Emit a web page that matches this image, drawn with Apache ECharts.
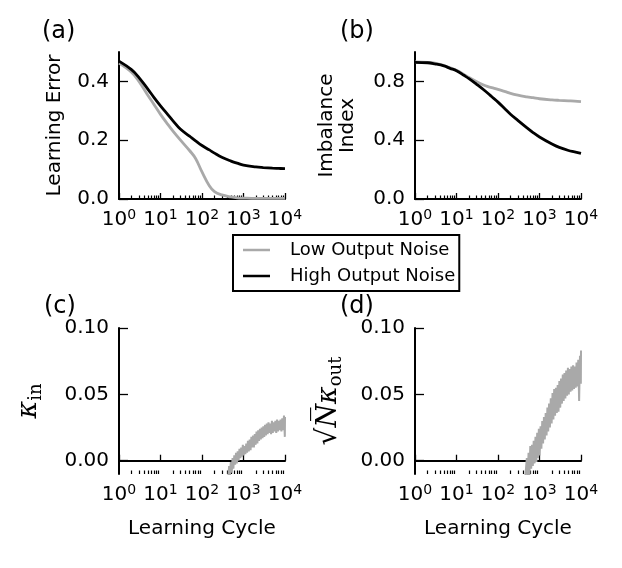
<!DOCTYPE html>
<html>
<head>
<meta charset="utf-8">
<script src="https://cdn.jsdelivr.net/npm/echarts@6/dist/echarts.min.js"></script>
<style>
  html, body { margin: 0; padding: 0; background: #fff; }
  #chart { width: 622px; height: 568px; }
</style>
</head>
<body>
<div id="chart"></div>
<script>
// learning cycles for the smooth curves (a), (b)
const cycles = [1, 2, 3, 5, 7, 10, 15, 20, 30, 50, 70, 100, 150, 200, 300, 500, 700, 1000, 2000, 3000, 5000, 7000, 10000];
// (a) learning error
const errLow  = [0.462, 0.431, 0.401, 0.352, 0.321, 0.288, 0.254, 0.231, 0.201, 0.165, 0.138, 0.092, 0.045, 0.025, 0.014, 0.007, 0.004, 0.003, 0.002, 0.002, 0.002, 0.002, 0.002];
const errHigh = [0.469, 0.440, 0.414, 0.373, 0.345, 0.317, 0.287, 0.266, 0.238, 0.214, 0.198, 0.182, 0.167, 0.156, 0.142, 0.129, 0.122, 0.115, 0.109, 0.107, 0.105, 0.104, 0.103];
// (b) imbalance index
const imbLow  = [0.932, 0.929, 0.924, 0.908, 0.893, 0.876, 0.848, 0.826, 0.799, 0.770, 0.758, 0.746, 0.730, 0.718, 0.706, 0.695, 0.689, 0.682, 0.674, 0.671, 0.668, 0.666, 0.663];
const imbHigh = [0.930, 0.927, 0.919, 0.905, 0.889, 0.873, 0.842, 0.819, 0.782, 0.733, 0.697, 0.659, 0.611, 0.577, 0.535, 0.484, 0.452, 0.422, 0.374, 0.351, 0.330, 0.321, 0.311];

// learning cycles for the noisy curves (c), (d)
const cyclesNoise = [430, 450, 470, 495, 520, 545, 570, 600, 630, 660, 690, 725, 760, 800, 840, 880, 920, 965,
  1010, 1060, 1110, 1165, 1220, 1280, 1340, 1410, 1480, 1550, 1620, 1700, 1780, 1870, 1960, 2060, 2160, 2260,
  2370, 2490, 2610, 2740, 2870, 3010, 3160, 3310, 3470, 3640, 3820, 4000, 4200, 4400, 4620, 4840, 5080, 5330,
  5590, 5860, 6150, 6450, 6770, 7100, 7450, 7810, 8190, 8590, 9010, 9450, 9910, 10000];
const kappaIn = [-0.013, -0.004, -0.011, -0.001, -0.009, 0.002, -0.006, 0.004, -0.003, 0.006, -0.002, 0.007, 0.000, 0.009, 0.002, 0.010, 0.003, 0.012,
  0.004, 0.011, 0.005, 0.013, 0.006, 0.015, 0.007, 0.016, 0.008, 0.018, 0.010, 0.019, 0.010, 0.020, 0.012, 0.022, 0.013, 0.023,
  0.015, 0.024, 0.016, 0.025, 0.017, 0.026, 0.018, 0.027, 0.019, 0.028, 0.020, 0.029, 0.021, 0.028, 0.020, 0.030, 0.021, 0.029,
  0.022, 0.030, 0.021, 0.031, 0.022, 0.030, 0.023, 0.031, 0.022, 0.032, 0.023, 0.034, 0.018, 0.033];
const kappaOut = [-0.016, -0.014, -0.015, 0.002, -0.012, 0.006, -0.011, 0.011, -0.006, 0.012, -0.004, 0.015, -0.002, 0.018, -0.001, 0.021, 0.002, 0.024,
  0.004, 0.026, 0.009, 0.030, 0.013, 0.033, 0.016, 0.036, 0.019, 0.040, 0.022, 0.043, 0.025, 0.047, 0.028, 0.051, 0.031, 0.054,
  0.034, 0.055, 0.036, 0.057, 0.037, 0.060, 0.040, 0.062, 0.043, 0.065, 0.045, 0.066, 0.047, 0.068, 0.049, 0.070, 0.050, 0.069,
  0.052, 0.071, 0.053, 0.072, 0.054, 0.071, 0.055, 0.074, 0.056, 0.076, 0.045, 0.079, 0.058, 0.083];

const xMajor = [1, 10, 100, 1000, 10000];
const yTicksA = [0, 0.2, 0.4];
const yTicksB = [0, 0.4, 0.8];
const yTicksC = [0, 0.05, 0.1];

let xMinor = [];
for (let d = 1; d < 10000; d *= 10) {
  for (let k = 2; k <= 9; k++) xMinor.push(k * d);
}

const FONT = 'DejaVu Sans';
const GRAY = '#a9a9a9';

const zip = (xs, ys) => xs.map((x, i) => [x, ys[i]]);

const grids = [
  { left: 119, top: 52, width: 166, height: 147 },
  { left: 415, top: 52, width: 166, height: 147 },
  { left: 119, top: 328, width: 166, height: 146 },
  { left: 415, top: 328, width: 166, height: 146 }
];

function majorX(i) {
  let ax = {
    type: 'log', logBase: 10, gridIndex: i, min: 1, max: 10000, position: 'bottom',
    axisLine: { show: true, lineStyle: { color: '#000', width: 2 } },
    axisTick: { show: true, inside: true, length: 6, lineStyle: { color: '#000', width: 1.3 }, customValues: xMajor },
    axisLabel: {
      customValues: xMajor, margin: 9, color: '#000',
      formatter: v => '{b|10}{s|' + Math.round(Math.log10(v)) + '}',
      rich: {
        b: { fontSize: 20, fontFamily: FONT, color: '#000', lineHeight: 23 },
        s: { fontSize: 14, fontFamily: FONT, color: '#000', lineHeight: 14, verticalAlign: 'top' }
      }
    },
    splitLine: { show: false }
  };
  if (i >= 2) {
    ax.name = 'Learning Cycle';
    ax.nameLocation = 'middle';
    ax.nameGap = 45;
    ax.nameTextStyle = { fontSize: 20, fontFamily: FONT, color: '#000' };
  }
  return ax;
}
function minorX(i) {
  return {
    type: 'log', logBase: 10, gridIndex: i, min: 1, max: 10000, position: 'bottom', offset: 0,
    axisLine: { show: false },
    axisTick: { show: true, inside: true, length: 3.5, lineStyle: { color: '#000', width: 1.2 }, customValues: xMinor },
    axisLabel: { show: false },
    splitLine: { show: false }
  };
}
function yAx(i, min, max, ticks, digits, name, gap, nameStyle) {
  return {
    type: 'value', gridIndex: i, min: min, max: max,
    axisLine: { show: true, lineStyle: { color: '#000', width: 2 } },
    axisTick: { show: true, inside: true, length: 9, lineStyle: { color: '#000', width: 1.3 }, customValues: ticks },
    axisLabel: { customValues: ticks, margin: 10, fontSize: 20, fontFamily: FONT, color: '#000', formatter: v => v.toFixed(digits) },
    splitLine: { show: false },
    name: name, nameLocation: 'middle', nameGap: gap, nameRotate: 90,
    nameTextStyle: nameStyle
  };
}

const plainName = { fontSize: 20, fontFamily: FONT, color: '#000', lineHeight: 21 };
const mathName = {
  color: '#000',
  rich: {
    r: { fontSize: 28, fontFamily: 'DejaVu Serif', color: '#000', lineHeight: 32 },
    k: { fontSize: 27, fontFamily: 'DejaVu Serif', fontStyle: 'italic', color: '#000', lineHeight: 32 },
    s: { fontSize: 18, fontFamily: 'DejaVu Serif', color: '#000', lineHeight: 22, verticalAlign: 'bottom' }
  }
};

function line(name, xi, yi, data, color, width, smooth) {
  return {
    type: 'line', name: name, xAxisIndex: xi, yAxisIndex: yi, data: data,
    showSymbol: false, symbol: 'none', smooth: smooth,
    lineStyle: { color: color, width: width }, itemStyle: { color: color },
    clip: true
  };
}

const chart = echarts.init(document.getElementById('chart'));
chart.setOption({
  animation: false,
  backgroundColor: '#fff',
  title: [
    { text: '(a)', left: 42, top: 20 },
    { text: '(b)', left: 340, top: 20 },
    { text: '(c)', left: 44, top: 295 },
    { text: '(d)', left: 340, top: 295 }
  ].map(t => Object.assign(t, { padding: 0, textStyle: { fontSize: 24, fontWeight: 'normal', fontFamily: FONT, color: '#000' } })),
  legend: {
    left: 233, top: 235, orient: 'vertical',
    padding: [4, 4, 4, 10], itemGap: 4,
    itemWidth: 27, itemHeight: 2.5, icon: 'rect',
    borderColor: '#000', borderWidth: 2,
    textStyle: { fontSize: 18, fontFamily: FONT, color: '#000', lineHeight: 22, padding: [0, 0, 0, 15] },
    data: ['Low Output Noise', 'High Output Noise']
  },
  grid: grids,
  xAxis: [majorX(0), minorX(0), majorX(1), minorX(1), majorX(2), minorX(2), majorX(3), minorX(3)],
  yAxis: [
    yAx(0, 0, 0.5, yTicksA, 1, 'Learning Error', 54, plainName),
    yAx(1, 0, 1.0, yTicksB, 1, 'Imbalance\nIndex', 57, plainName),
    yAx(2, -0.01, 0.1, yTicksC, 2, '{k|κ}{s|in}', 74, mathName),
    yAx(3, -0.01, 0.1, yTicksC, 2, '{r|√}{k|N\u0305}{k|κ}{s|out}', 70, mathName)
  ],
  series: [
    line('Low Output Noise', 0, 0, zip(cycles, errLow), GRAY, 2.8, 0.4),
    line('High Output Noise', 0, 0, zip(cycles, errHigh), '#000', 2.8, 0.4),
    line('Low Output Noise', 2, 1, zip(cycles, imbLow), GRAY, 2.8, 0.4),
    line('High Output Noise', 2, 1, zip(cycles, imbHigh), '#000', 2.8, 0.4),
    line('kappa in', 4, 2, zip(cyclesNoise, kappaIn), GRAY, 2, false),
    line('kappa out', 6, 3, zip(cyclesNoise, kappaOut), GRAY, 2, false)
  ]
});
</script>
</body>
</html>
